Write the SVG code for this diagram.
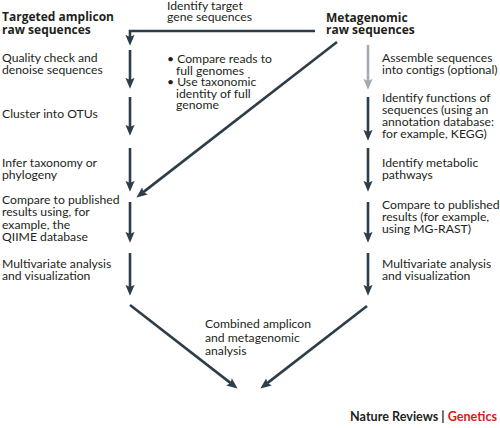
<svg xmlns="http://www.w3.org/2000/svg" width="500" height="428" viewBox="0 0 500 428">
<defs>
<style>
text{font-family:Lato,"Open Sans",sans-serif;font-size:12.2px;fill:#231f20}
.b{font-family:"Open Sans",Lato,sans-serif;font-weight:bold;font-size:12px}
.ln{fill:none;stroke:#2e3e48;stroke-width:2.6}
.gy{fill:none;stroke:#a3abb0;stroke-width:2.6}
</style>
<marker id="ah" markerUnits="userSpaceOnUse" markerWidth="12" markerHeight="12" viewBox="0 -5 11 10" refX="2" refY="0" orient="auto">
<path d="M0,-4.2 L10,0 L0,4.2 L2,0 Z" fill="#2e3e48"/>
</marker>
<marker id="ahg" markerUnits="userSpaceOnUse" markerWidth="12" markerHeight="12" viewBox="0 -5 11 10" refX="2" refY="0" orient="auto">
<path d="M0,-4.2 L10,0 L0,4.2 L2,0 Z" fill="#a3abb0"/>
</marker>
</defs>
<rect width="500" height="428" fill="#fff"/>
<g id="connectors">
<path class="ln" d="M315,31 H130 V37" marker-end="url(#ah)"/>
<path class="ln" d="M130,50 V80" marker-end="url(#ah)"/>
<path class="ln" d="M130,97 V127" marker-end="url(#ah)"/>
<path class="ln" d="M130,148 V183" marker-end="url(#ah)"/>
<path class="ln" d="M130,202 V234" marker-end="url(#ah)"/>
<path class="ln" d="M130,253 V287" marker-end="url(#ah)"/>
<path class="gy" d="M368,45 V81" marker-end="url(#ahg)"/>
<path class="ln" d="M368,97 V132" marker-end="url(#ah)"/>
<path class="ln" d="M368,148 V183" marker-end="url(#ah)"/>
<path class="ln" d="M368,202 V234" marker-end="url(#ah)"/>
<path class="ln" d="M368,253 V287" marker-end="url(#ah)"/>
<path class="ln" d="M337,42 L143.3,192.1" marker-end="url(#ah)"/>
<path class="ln" d="M130,305 L230.7,383.1" marker-end="url(#ah)"/>
<path class="ln" d="M367,306 L267.3,383.1" marker-end="url(#ah)"/>
</g>
<g id="amplicon-raw"><text class="b" x="2" y="21">Targeted amplicon</text><text class="b" x="2" y="34">raw sequences</text></g>
<g id="quality"><text x="2" y="62">Quality check and</text><text x="2" y="74">denoise sequences</text></g>
<g id="cluster"><text x="2" y="118">Cluster into OTUs</text></g>
<g id="infer"><text x="2" y="167">Infer taxonomy or</text><text x="2" y="179">phylogeny</text></g>
<g id="compare-left"><text x="2" y="204">Compare to published</text><text x="2" y="216.3">results using, for</text><text x="2" y="228.6">example, the</text><text x="2" y="241">QIIME database</text></g>
<g id="multi-left"><text x="2" y="268">Multivariate analysis</text><text x="2" y="280">and visualization</text></g>
<g id="identify-target"><text x="167" y="9.5">Identify target</text><text x="167" y="20.5">gene sequences</text></g>
<g id="bullets"><text x="167" y="63">• Compare reads to</text><text x="176" y="74.5">full genomes</text><text x="167" y="86">• Use taxonomic</text><text x="176" y="97.5">identity of full</text><text x="176" y="109">genome</text></g>
<g id="metagenomic-raw"><text class="b" x="326" y="22">Metagenomic</text><text class="b" x="326" y="34">raw sequences</text></g>
<g id="assemble"><text x="382" y="62">Assemble sequences</text><text x="382" y="74">into contigs (optional)</text></g>
<g id="functions"><text x="382" y="102">Identify functions of</text><text x="382" y="114">sequences (using an</text><text x="382" y="126">annotation database:</text><text x="382" y="138">for example, KEGG)</text></g>
<g id="metabolic"><text x="382" y="167">Identify metabolic</text><text x="382" y="179">pathways</text></g>
<g id="compare-right"><text x="382" y="209">Compare to published</text><text x="382" y="221">results (for example,</text><text x="382" y="233">using MG-RAST)</text></g>
<g id="multi-right"><text x="382" y="268">Multivariate analysis</text><text x="382" y="280">and visualization</text></g>
<g id="combined"><text x="205" y="328">Combined amplicon</text><text x="205" y="341.5">and metagenomic</text><text x="205" y="355">analysis</text></g>
<g id="credit"><text x="497" y="421" text-anchor="end" style="font-weight:bold;font-size:12.6px">Nature Reviews | <tspan fill="#d71920">Genetics</tspan></text></g>
</svg>
